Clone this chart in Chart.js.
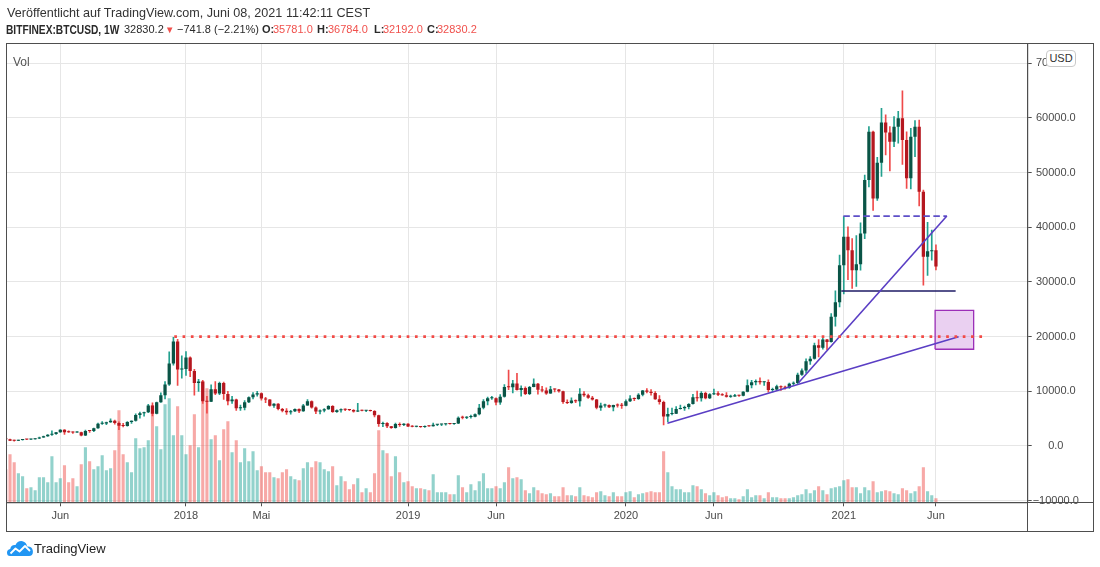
<!DOCTYPE html>
<html>
<head>
<meta charset="utf-8">
<script src="https://cdn.jsdelivr.net/npm/chart.js@4.4.0/dist/chart.umd.min.js"></script>
<style>
body { margin: 0; background: #fff; width: 1100px; height: 567px; overflow: hidden; position: relative;
       font-family: "Liberation Sans", Arial, sans-serif; color: #2a2a2a; }
#c { position: absolute; left: 0; top: 0; }
.t { position: absolute; white-space: nowrap; line-height: 1; }
.b { font-weight: bold; }
.r { color: #f0504c; }
.h2 { top: 24px; font-size: 11px; }
.frame { position: absolute; left: 6px; top: 43px; width: 1088px; height: 489px; border: 1.5px solid #4e4e4e; box-sizing: border-box; pointer-events: none; }
.ln { position: absolute; background: #4e4e4e; }
.usd { position: absolute; left: 1046px; top: 50px; width: 30px; height: 17px; box-sizing: border-box; border: 1px solid #c9c9c9;
       border-radius: 4px; background: #fff; font-size: 11px; color: #333; text-align: center; line-height: 15px; }
</style>
</head>
<body>
<canvas id="c" width="1100" height="567"></canvas>

<div class="t" style="left:7px;top:6.5px;font-size:12.6px;color:#333">Veröffentlicht auf TradingView.com, Juni 08, 2021 11:42:11 CEST</div>
<div class="t b" style="left:6px;top:23.5px;font-size:12px;transform:scaleX(0.85);transform-origin:left">BITFINEX:BTCUSD, 1W</div>
<div class="t h2" style="left:124px">32830.2</div>
<div class="t r" style="left:165px;top:24.5px;font-size:9.5px">▼</div>
<div class="t h2" style="left:177px">−741.8 (−2.21%)</div>
<div class="t b h2" style="left:262px">O:</div>
<div class="t r h2" style="left:273px">35781.0</div>
<div class="t b h2" style="left:317px">H:</div>
<div class="t r h2" style="left:328px">36784.0</div>
<div class="t b h2" style="left:374px">L:</div>
<div class="t r h2" style="left:383px">32192.0</div>
<div class="t b h2" style="left:427px">C:</div>
<div class="t r h2" style="left:437px">32830.2</div>

<div class="t" style="left:13px;top:56px;font-size:12px;color:#555">Vol</div>
<div class="frame"></div>
<div class="ln" style="left:1027px;top:500px;width:1.2px;height:31px"></div>
<div class="ln" style="left:1027px;top:501.7px;width:66px;height:1.2px"></div>
<div class="usd">USD</div>

<svg style="position:absolute;left:7px;top:540px" width="26" height="16" viewBox="0 0 26 16">
  <path d="M3 16 Q0 16 0 12.5 Q0 9.5 3.2 9 Q4 4.5 8.5 5 Q10.5 0.5 15.5 1.2 Q19.5 2 20 6.5 Q25 6 25.8 10.5 Q26.5 16 22 16 Z" fill="#2196f3"/>
  <path d="M3.5 13.5 L8.5 8.5 L12.5 11.5 L18 6 L23 11" stroke="#fff" stroke-width="1.8" fill="none" stroke-linejoin="round"/>
</svg>
<div class="t" style="left:34px;top:542px;font-size:13px;color:#222">TradingView</div>

<script>
// weekly BITFINEX:BTCUSD candles, first week = 6 Mar 2017, last week = 7 Jun 2021
var opens = [
  1270, 1230, 970, 965, 1090, 1180, 1170, 1240, 1350, 1560, 1780, 2050, 2200, 2500, 2950, 2520, 2500, 2480, 2520, 1930,
  2760, 2740, 3230, 4080, 4100, 4350, 4600, 4220, 3700, 3670, 4390, 4610, 5690, 6010, 6150, 7400, 5900, 8000, 9300, 11250,
  15100, 19100, 14000, 14100, 16200, 13700, 11500, 11800, 8200, 8100, 10400, 9600, 11500, 9500, 8200, 8500, 6900, 7000, 8000, 8900,
  9400, 9650, 8700, 8500, 7350, 7710, 6770, 6460, 6150, 6350, 6750, 6350, 7400, 8200, 7030, 6320, 6480, 6700, 7300, 6220,
  6520, 6700, 6630, 6600, 6290, 6450, 6440, 6470, 6400, 5600, 4000, 4200, 3600, 3280, 4000, 3850, 4050, 3550, 3540, 3560,
  3450, 3640, 3620, 3900, 3920, 3960, 4030, 4010, 4120, 5180, 5170, 5320, 5360, 5800, 7000, 8200, 8740, 8750, 7950, 8990,
  10800, 10750, 11450, 10250, 10600, 9500, 10800, 11400, 10300, 10140, 9600, 10400, 10350, 10000, 8050, 7850, 8300, 8200, 9550, 9300,
  8800, 8500, 7000, 7400, 7500, 7100, 7500, 7390, 7350, 8180, 8700, 8600, 9380, 10150, 9900, 9700, 8550, 8050, 5400, 5850,
  5900, 6780, 6900, 7120, 7700, 8900, 8720, 9700, 8720, 9450, 9660, 9350, 9300, 9000, 9070, 9280, 9170, 9930, 11100, 11680,
  11900, 11650, 11700, 10250, 10330, 10930, 10760, 10670, 11380, 11500, 13030, 13800, 15480, 15970, 18420, 17990, 19460, 19030, 23620, 26300,
  33080, 38270, 35820, 32150, 33250, 38870, 48640, 57480, 45280, 51800, 59150, 57320, 55650, 58400, 59930, 55960, 48950, 56580, 58400, 46500,
  34600, 35640, 35781
];
var highs = [
  1330, 1260, 1070, 1100, 1210, 1220, 1250, 1360, 1620, 1800, 2100, 2770, 2500, 2980, 2990, 2780, 2600, 2650, 2540, 2900,
  2810, 3270, 4200, 4480, 4370, 4980, 4730, 4400, 4130, 4450, 4620, 5860, 6200, 6190, 7600, 7900, 8020, 9700, 11800, 17200,
  19890, 19500, 16500, 17250, 16300, 14000, 12200, 12000, 9100, 11200, 11800, 11700, 11700, 10000, 9100, 8600, 7500, 8300, 9000, 9750,
  9990, 9700, 8900, 8500, 7770, 7760, 6900, 6850, 6520, 6800, 6800, 7600, 8500, 8270, 7150, 6600, 6850, 7400, 7400, 6600,
  6800, 6800, 6680, 6680, 7800, 6550, 6500, 6580, 6470, 5650, 4350, 4300, 3600, 4200, 4250, 4100, 4100, 3750, 3640, 3600,
  3700, 3700, 4200, 3950, 3990, 4050, 4100, 4150, 5350, 5470, 5400, 5650, 5900, 7600, 8500, 8950, 9100, 8800, 9400, 11250,
  13900, 12000, 13300, 11000, 10800, 10900, 12300, 11450, 10900, 10650, 10900, 10450, 10350, 10050, 8450, 8800, 8420, 10500, 9950, 9500,
  9100, 8550, 7850, 7650, 7550, 7500, 7700, 7800, 8450, 9200, 8800, 9600, 10200, 10500, 10300, 9950, 9200, 8200, 6950, 6950,
  7200, 7480, 7300, 7750, 9450, 10050, 9950, 9850, 9600, 10400, 9960, 9600, 9750, 9300, 9450, 9300, 9950, 12100, 12000, 12100,
  12480, 11750, 12080, 10600, 11150, 11000, 10950, 11500, 11750, 13350, 14100, 15950, 16350, 18800, 19450, 19900, 19500, 24200, 28400, 34900,
  41950, 40100, 37950, 38500, 40830, 49550, 58400, 57600, 52800, 61770, 60550, 58400, 60240, 61200, 64940, 57480, 58100, 59500, 59620, 46800,
  40900, 39480, 36784
];
var lows = [
  975, 950, 890, 960, 1070, 1150, 1170, 1230, 1340, 1560, 1750, 1950, 2100, 2470, 2100, 2460, 2320, 2470, 1840, 1900,
  2480, 2620, 3200, 3950, 3900, 4320, 4000, 2970, 3500, 3640, 4150, 4560, 5100, 5440, 6100, 5500, 5860, 7990, 8600, 11100,
  14800, 11100, 12400, 12900, 12700, 9300, 10000, 7800, 6000, 8100, 9400, 9400, 8500, 7500, 7800, 6500, 6500, 6600, 7900, 8600,
  9100, 8400, 7900, 7300, 7050, 6600, 6250, 5780, 5830, 6280, 6100, 6300, 7400, 6900, 5900, 5880, 6250, 6700, 6150, 6160,
  6200, 6480, 6480, 6200, 6280, 6400, 6270, 6350, 5300, 3600, 3550, 3350, 3200, 3250, 3600, 3700, 3550, 3500, 3480, 3400,
  3380, 3580, 3620, 3700, 3700, 3800, 3970, 3950, 4080, 4950, 5000, 5100, 5300, 5700, 6800, 7500, 8500, 7500, 7600, 8950,
  10300, 9700, 10200, 9100, 9400, 9400, 10800, 9500, 9900, 9450, 9600, 9900, 9850, 7800, 7750, 7800, 7900, 7300, 9050, 8700,
  8400, 6800, 6500, 7100, 7000, 6400, 7100, 6850, 7350, 8100, 8300, 8500, 9150, 9700, 9300, 8500, 7650, 3850, 4450, 5700,
  5900, 6750, 6500, 6800, 7650, 8200, 8200, 8600, 8650, 9400, 9200, 9250, 8950, 8900, 9050, 9070, 9150, 9900, 10600, 11150,
  11300, 11100, 9850, 9900, 10200, 10150, 10400, 10550, 11200, 11400, 12900, 13300, 14900, 15900, 16300, 17700, 17600, 19000, 21900, 25450,
  27800, 30400, 28800, 29200, 32150, 37900, 47400, 43100, 44900, 49300, 53220, 50300, 54750, 55400, 51500, 47100, 47000, 52900, 43890, 29400,
  31200, 33990, 32192
];
var closes = [
  1230, 970, 965, 1090, 1180, 1170, 1240, 1350, 1560, 1780, 2050, 2200, 2500, 2950, 2520, 2500, 2480, 2520, 1930, 2760,
  2740, 3230, 4080, 4100, 4350, 4600, 4220, 3700, 3670, 4390, 4610, 5690, 6010, 6150, 7400, 5900, 8000, 9300, 11250, 15100,
  19100, 14000, 14100, 16200, 13700, 11500, 11800, 8200, 8100, 10400, 9600, 11500, 9500, 8200, 8500, 6900, 7000, 8000, 8900, 9400,
  9650, 8700, 8500, 7350, 7710, 6770, 6460, 6150, 6350, 6750, 6350, 7400, 8200, 7030, 6320, 6480, 6700, 7300, 6220, 6520,
  6700, 6630, 6600, 6290, 6450, 6440, 6470, 6400, 5600, 4000, 4200, 3600, 3280, 4000, 3850, 4050, 3550, 3540, 3560, 3450,
  3640, 3620, 3900, 3920, 3960, 4030, 4010, 4120, 5180, 5170, 5320, 5360, 5800, 7000, 8200, 8740, 8750, 7950, 8990, 10800,
  10750, 11450, 10250, 10600, 9500, 10800, 11400, 10300, 10140, 9600, 10400, 10350, 10000, 8050, 7850, 8300, 8200, 9550, 9300, 8800,
  8500, 7000, 7400, 7500, 7100, 7500, 7390, 7350, 8180, 8700, 8600, 9380, 10150, 9900, 9700, 8550, 8050, 5400, 5850, 5900,
  6780, 6900, 7120, 7700, 8900, 8720, 9700, 8720, 9450, 9660, 9350, 9300, 9000, 9070, 9280, 9170, 9930, 11100, 11680, 11900,
  11650, 11700, 10250, 10330, 10930, 10760, 10670, 11380, 11500, 13030, 13800, 15480, 15970, 18420, 17990, 19460, 19030, 23620, 26300, 33080,
  38270, 35820, 32150, 33250, 38870, 48640, 57480, 45280, 51800, 59150, 57320, 55650, 58400, 59930, 55960, 48950, 56580, 58400, 46500, 34600,
  35640, 35781, 32830.2
];
// volume (relative units)
var volumes = [
  33, 48, 40, 29, 26, 14, 15, 12, 25, 25, 20, 46, 20, 24, 37, 20, 24, 16, 38, 55,
  41, 33, 36, 47, 32, 34, 52, 92, 48, 40, 30, 64, 54, 55, 62, 97, 76, 53, 98, 104,
  67, 96, 67, 48, 57, 88, 55, 121, 114, 63, 67, 42, 73, 81, 50, 62, 40, 54, 41, 51,
  32, 36, 30, 30, 25, 24, 30, 33, 26, 23, 22, 34, 40, 35, 41, 40, 33, 31, 36, 17,
  26, 21, 13, 18, 24, 10, 14, 10, 29, 72, 52, 49, 26, 46, 30, 20, 21, 16, 14, 14,
  13, 12, 28, 10, 10, 10, 8, 8, 27, 15, 10, 18, 12, 21, 29, 14, 14, 16, 14, 20,
  35, 24, 25, 23, 12, 9, 15, 12, 9, 8, 9, 6, 6, 15, 7, 7, 6, 15, 7, 6,
  5, 10, 11, 7, 6, 10, 6, 6, 10, 11, 5, 8, 9, 10, 11, 10, 10, 51, 30, 16,
  13, 13, 10, 10, 17, 16, 13, 9, 7, 10, 7, 5, 6, 4, 4, 3, 6, 13, 5, 7,
  7, 4, 10, 5, 5, 4, 4, 4, 5, 7, 8, 13, 9, 12, 16, 12, 8, 14, 15, 16,
  22, 23, 15, 15, 9, 15, 12, 21, 10, 11, 12, 11, 9, 8, 14, 12, 9, 11, 16, 35,
  11, 7, 4
];

var tickIdx = [13, 43, 61, 96, 117, 148, 169, 200, 222];
var tickText = ['Jun', '2018', 'Mai', '2019', 'Jun', '2020', 'Jun', '2021', 'Jun'];
var priceTicks = [-10000, 0, 10000, 20000, 30000, 40000, 50000, 60000, 70000];

// drawings on the chart: [week index, price]
var resistLine = [[40.2, 19990], [233.9, 19990]];
var trendLong = [[157.9, 4150], [227.4, 19990]];
var trendSteep = [[189.2, 11580], [224.6, 42050]];
var topDashed = [[199.9, 42050], [224.6, 42050]];
var supportLine = [[199.4, 28350], [226.7, 28350]];
var targetBox = [[221.8, 17690], [231.0, 17690], [231.0, 24820], [221.8, 24820], [221.8, 17690]];

const upBody = '#0a5446', upWick = '#22a08e';
const dnBody = '#b5171f', dnWick = '#ef4a4a';
const fontFam = '"Liberation Sans", Arial, sans-serif';

function pts(arr) {
    return arr.map(function (p) { return { x: p[0], y: p[1] }; });
}
function isUp(i) {
    return closes[i] >= opens[i];
}

Chart.defaults.font.family = fontFam;

var bodies = opens.map(function (o, i) { return { x: i, y: [o, closes[i]] }; });
var wicks = lows.map(function (l, i) { return { x: i, y: [l, highs[i]] }; });
var vols = volumes.map(function (v, i) { return { x: i, y: v }; });

function drawLine(data, color, width, dash) {
    return {
        type: 'line',
        data: pts(data),
        borderColor: color,
        borderWidth: width,
        borderDash: dash || [],
        borderCapStyle: 'butt',
        pointRadius: 0,
        fill: false,
        tension: 0,
        yAxisID: 'y'
    };
}

new Chart(document.getElementById('c'), {
    type: 'bar',
    data: {
        datasets: [
            drawLine(resistLine, '#f24a46', 2.7, [2.7, 5.6]),
            drawLine(trendLong, '#5a3ec4', 1.6),
            drawLine(trendSteep, '#5a3ec4', 1.6),
            drawLine(topDashed, '#5d4fc8', 1.8, [6.5, 3.5]),
            drawLine(supportLine, '#1e1a64', 1.6),
            {
                type: 'line',
                data: pts(targetBox),
                borderColor: '#9c2fb8',
                borderWidth: 1.3,
                backgroundColor: 'rgba(190, 110, 210, 0.32)',
                pointRadius: 0,
                fill: 'shape',
                tension: 0,
                yAxisID: 'y'
            },
            {
                data: bodies,
                grouped: false,
                categoryPercentage: 1,
                barPercentage: 0.78,
                minBarLength: 1,
                backgroundColor: function (ctx) { return isUp(ctx.dataIndex) ? upBody : dnBody; },
                yAxisID: 'y'
            },
            {
                data: wicks,
                grouped: false,
                barThickness: 1,
                backgroundColor: function (ctx) { return isUp(ctx.dataIndex) ? upWick : dnWick; },
                yAxisID: 'y'
            },
            {
                data: vols,
                grouped: false,
                categoryPercentage: 1,
                barPercentage: 0.74,
                backgroundColor: function (ctx) { return isUp(ctx.dataIndex) ? 'rgba(38, 166, 154, 0.5)' : 'rgba(239, 83, 80, 0.5)'; },
                yAxisID: 'yv'
            }
        ]
    },
    options: {
        responsive: false,
        animation: false,
        events: [],
        layout: { padding: { left: 7, top: 44, right: 7, bottom: 36.4 } },
        plugins: { legend: { display: false }, tooltip: { enabled: false } },
        scales: {
            x: {
                type: 'linear',
                offset: false,
                min: 0.28,
                max: 243.9,
                afterBuildTicks: function (ax) { ax.ticks = tickIdx.map(function (v) { return { value: v }; }); },
                afterFit: function (ax) { ax.height = 28.3; },
                grid: { offset: false, color: '#e6e6e6', tickLength: 4, tickColor: '#4e4e4e' },
                border: { color: '#4e4e4e', width: 1.2 },
                ticks: {
                    autoSkip: false,
                    maxRotation: 0,
                    padding: 3,
                    color: '#4a4a4a',
                    font: { size: 11 },
                    callback: function (v) { return tickText[tickIdx.indexOf(v)]; }
                }
            },
            y: {
                position: 'right',
                min: -10300,
                max: 73525,
                afterBuildTicks: function (ax) { ax.ticks = priceTicks.map(function (v) { return { value: v }; }); },
                afterFit: function (ax) { ax.width = 65.3; },
                grid: { color: '#e6e6e6', tickLength: 4, tickColor: '#4e4e4e' },
                border: { color: '#4e4e4e', width: 1.2 },
                ticks: {
                    padding: 1,
                    crossAlign: 'center',
                    color: '#4a4a4a',
                    font: { size: 11 },
                    callback: function (v) { return (v < 0 ? '−' : '') + Math.abs(v).toFixed(1); }
                }
            },
            yv: { display: false, min: 0, max: 458 }
        }
    }
});
</script>
</body>
</html>
